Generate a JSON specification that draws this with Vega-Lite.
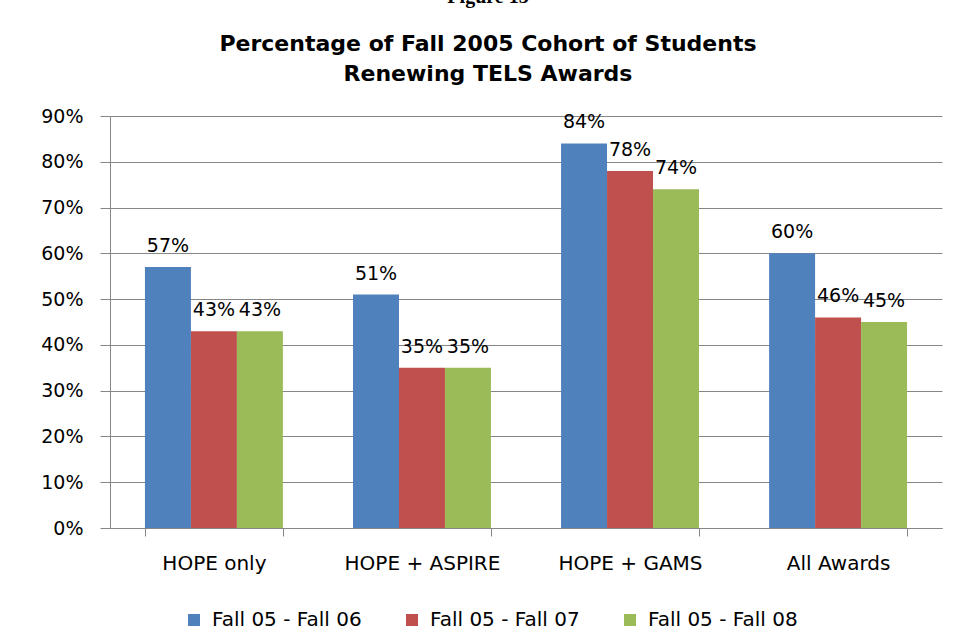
{
  "$schema": "https://vega.github.io/schema/vega-lite/v6.json",
  "width": 832,
  "height": 412,
  "autosize": "none",
  "padding": {"left": 110, "top": 116, "right": 14, "bottom": 116},
  "background": "white",
  "title": {
    "text": "Figure 13",
    "subtitle": ["Percentage of Fall 2005 Cohort of Students", "Renewing TELS Awards"],
    "frame": "group",
    "anchor": "middle",
    "dx": -38,
    "offset": 22,
    "font": "Liberation Serif",
    "fontSize": 20,
    "fontWeight": "bold",
    "color": "black",
    "subtitleFont": "DejaVu Sans",
    "subtitleFontSize": 22,
    "subtitleFontWeight": "bold",
    "subtitleColor": "black",
    "subtitleLineHeight": 30,
    "subtitlePadding": 27
  },
  "data": {
    "values": [
      {"group": "HOPE only", "series": "Fall 05 - Fall 06", "value": 0.57},
      {"group": "HOPE only", "series": "Fall 05 - Fall 07", "value": 0.43},
      {"group": "HOPE only", "series": "Fall 05 - Fall 08", "value": 0.43},
      {"group": "HOPE + ASPIRE", "series": "Fall 05 - Fall 06", "value": 0.51},
      {"group": "HOPE + ASPIRE", "series": "Fall 05 - Fall 07", "value": 0.35},
      {"group": "HOPE + ASPIRE", "series": "Fall 05 - Fall 08", "value": 0.35},
      {"group": "HOPE + GAMS", "series": "Fall 05 - Fall 06", "value": 0.84},
      {"group": "HOPE + GAMS", "series": "Fall 05 - Fall 07", "value": 0.78},
      {"group": "HOPE + GAMS", "series": "Fall 05 - Fall 08", "value": 0.74},
      {"group": "All Awards", "series": "Fall 05 - Fall 06", "value": 0.60},
      {"group": "All Awards", "series": "Fall 05 - Fall 07", "value": 0.46},
      {"group": "All Awards", "series": "Fall 05 - Fall 08", "value": 0.45}
    ]
  },
  "encoding": {
    "x": {
      "field": "group",
      "type": "nominal",
      "sort": ["HOPE only", "HOPE + ASPIRE", "HOPE + GAMS", "All Awards"],
      "scale": {"paddingInner": 0.337, "paddingOuter": 0.168},
      "axis": {
        "title": null,
        "labelAngle": 0,
        "labelFont": "DejaVu Sans",
        "labelFontSize": 20,
        "labelColor": "black",
        "labelPadding": 17,
        "tickBand": "extent",
        "tickSize": 8,
        "tickColor": "#868686",
        "domainColor": "#868686",
        "grid": false
      }
    },
    "xOffset": {"field": "series", "type": "nominal"},
    "y": {
      "field": "value",
      "type": "quantitative",
      "scale": {"domain": [0, 0.9]},
      "axis": {
        "title": null,
        "format": ".0%",
        "values": [0, 0.1, 0.2, 0.3, 0.4, 0.5, 0.6, 0.7, 0.8, 0.9],
        "labelFont": "DejaVu Sans",
        "labelFontSize": 19,
        "labelColor": "black",
        "labelPadding": 17,
        "tickSize": 10,
        "tickColor": "#868686",
        "domainColor": "#868686",
        "gridColor": "#868686",
        "gridWidth": 1
      }
    }
  },
  "layer": [
    {
      "mark": {"type": "bar"},
      "encoding": {
        "color": {
          "field": "series",
          "type": "nominal",
          "scale": {"range": ["#4F81BD", "#C0504D", "#9BBB59"]},
          "legend": {
            "title": null,
            "orient": "none",
            "direction": "horizontal",
            "legendX": 74,
            "legendY": 494,
            "symbolType": "square",
            "symbolSize": 144,
            "symbolStrokeWidth": 0,
            "labelFont": "DejaVu Sans",
            "labelFontSize": 20,
            "labelColor": "black",
            "labelOffset": 8,
            "columnPadding": 40
          }
        }
      }
    },
    {
      "mark": {"type": "text", "baseline": "alphabetic", "dy": -15, "font": "DejaVu Sans", "fontSize": 19, "color": "black"},
      "encoding": {
        "text": {"field": "value", "type": "quantitative", "format": ".0%"}
      }
    }
  ],
  "config": {
    "view": {"stroke": null}
  }
}
